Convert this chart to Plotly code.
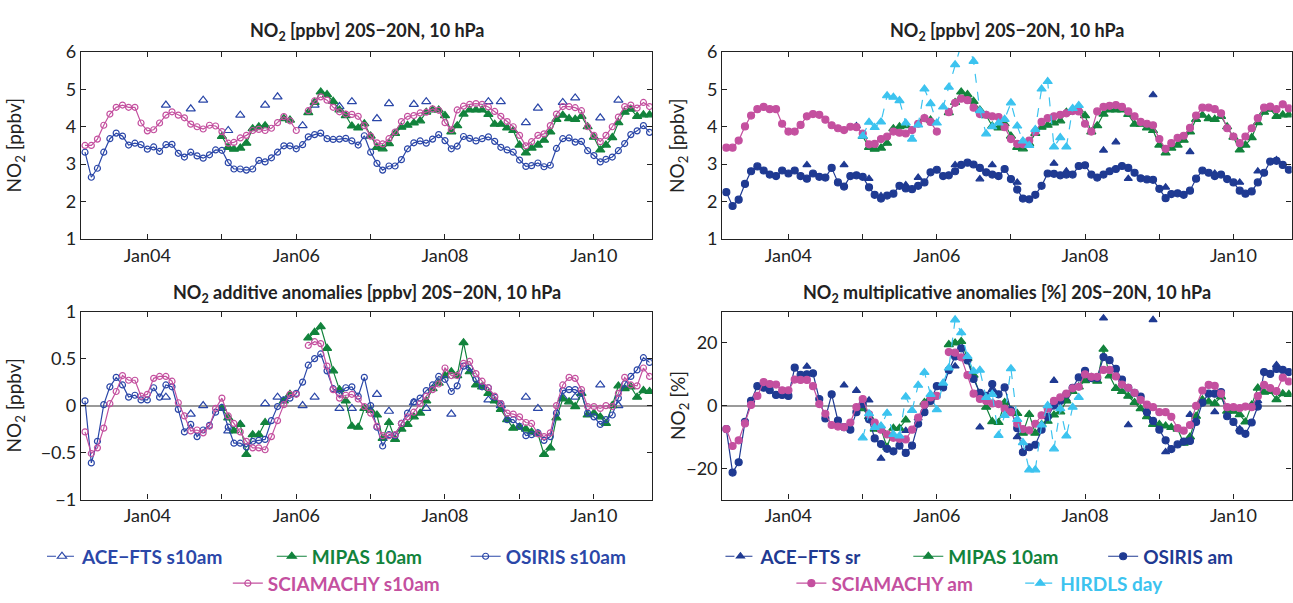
import pandas as pd
import plotly.graph_objects as go

N = None
months = pd.date_range("2003-03-01", periods=92, freq="MS")
tick_years = [2004, 2006, 2008, 2010]
tick_labels = ["Jan04", "Jan06", "Jan08", "Jan10"]

# ---------------- top-left: NO2 [ppbv] (s10am) ----------------
osiris_s10am = [3.32, 2.65, 2.89, 3.32, 3.68, 3.83, 3.75, 3.51, 3.56, 3.52,
                3.40, 3.46, 3.34, 3.52, 3.53, 3.29, 3.19, 3.32, 3.22, 3.16,
                3.25, 3.38, 3.37, 3.04, 2.87, 2.87, 2.84, 2.87, 3.10, 3.06,
                3.17, 3.32, 3.49, 3.49, 3.41, 3.52, 3.73, 3.79, 3.83, 3.68,
                3.66, 3.67, 3.69, 3.62, 3.51, 3.76, 3.32, 3.02, 2.84, 2.95,
                2.95, 3.12, 3.41, 3.57, 3.62, 3.56, 3.67, 3.79, 3.63, 3.41,
                3.48, 3.74, 3.69, 3.62, 3.68, 3.73, 3.61, 3.45, 3.38, 3.32,
                3.11, 2.94, 2.96, 3.03, 2.93, 2.97, 3.42, 3.68, 3.70, 3.59,
                3.61, 3.36, 3.23, 3.06, 3.13, 3.19, 3.36, 3.55, 3.79, 3.89,
                4.03, 3.85]
scia_s10am = [3.50, 3.50, 3.67, 4.04, 4.34, 4.52, 4.58, 4.52, 4.52, 4.10,
              3.89, 3.92, 4.10, 4.31, 4.40, 4.31, 4.24, 4.07, 4.00, 3.94,
              4.04, 4.02, 3.87, 3.56, 3.58, 3.70, 3.77, 3.90, 3.93, 3.90,
              3.96, 4.11, 4.27, 4.16, 3.90, N, 4.43, 4.69, 4.80, 4.71,
              4.52, 4.40, 4.34, 4.33, 4.28, 4.03, 3.75, 3.57, 3.54, 3.68,
              3.86, 4.14, 4.28, 4.30, 4.37, 4.39, 4.48, 4.44, 4.11, 3.92,
              4.45, 4.55, 4.60, 4.62, 4.60, 4.53, 4.41, 4.28, 4.14, 4.00,
              3.77, 3.49, 3.60, 3.77, 3.81, 4.03, 4.34, 4.54, 4.54, 4.51,
              4.43, 4.00, 3.77, 3.60, 3.77, 4.00, 4.26, 4.54, 4.58, 4.50,
              4.65, 4.54]
mipas_10am = [N] * 22 + [
              3.74, 3.45, 3.40, 3.43, 3.56, 3.95, 4.00, 4.03,
              N, N, 4.22, 4.18, N, N, 4.38, 4.65, 4.93, 4.86,
              4.68, 4.45, 4.30, 4.02, 3.97, 4.08, 3.75, 3.45, 3.41, 3.55,
              3.82, 3.99, 4.04, 4.10, 4.16, 4.39, 4.45, 4.45, 4.30, 3.86,
              4.03, 4.34, 4.45, 4.45, 4.45, 4.33, 4.07, 4.07, 3.97, 3.90,
              3.51, 3.30, 3.43, 3.51, 3.64, 3.86, 4.20, 4.31, 4.22, 4.20,
              4.28, 4.00, 3.72, 3.38, 3.51, 3.71, 4.11, 4.39, 4.47, 4.28,
              4.32, 4.32]
ace_s10am = [N, N, N, N, N, N, N, N, N, N,
             N, N, N, 4.58, N, N, N, 4.48, N, 4.71,
             N, N, N, 3.90, N, 4.31, N, N, N, 4.58,
             N, 4.80, N, N, N, 4.03, N, 4.58, N, N,
             N, 4.54, N, 4.67, N, N, N, 4.22, N, 4.62,
             N, N, N, 4.60, N, 4.67, N, N, N, N,
             N, N, N, N, N, 4.67, N, 4.67, N, N,
             N, 4.11, N, 4.50, N, N, N, 4.65, N, 4.77,
             N, N, N, 4.24, N, N, 4.71, N, N, N,
             N, N]

# ---------------- top-right: NO2 [ppbv] (am / sr / day) ----------------
osiris_am = [2.25, 1.88, 2.05, 2.47, 2.81, 2.94, 2.83, 2.72, 2.68, 2.83,
             2.75, 2.83, 2.68, 2.61, 2.75, 2.66, 2.64, 2.90, 2.51, 2.40,
             2.68, 2.70, 2.66, 2.38, 2.18, 2.08, 2.16, 2.21, 2.42, 2.35,
             2.33, 2.42, 2.51, 2.78, 2.85, 2.68, 2.70, 2.81, 2.98, 3.04,
             2.99, 2.90, 2.78, 2.72, 2.68, 2.87, 2.60, 2.32, 2.08, 2.06,
             2.18, 2.42, 2.75, 2.74, 2.70, 2.72, 2.72, 2.95, 2.97, 2.72,
             2.64, 2.72, 2.81, 2.87, 2.95, 2.90, 2.77, 2.62, 2.59, 2.58,
             2.34, 2.09, 2.20, 2.22, 2.18, 2.29, 2.61, 2.83, 2.77, 2.68,
             2.72, 2.60, 2.51, 2.29, 2.21, 2.27, 2.51, 2.77, 3.07, 3.09,
             2.98, 2.85]
scia_am = [3.44, 3.44, 3.63, 4.01, 4.30, 4.47, 4.53, 4.47, 4.47, 4.08,
           3.87, 3.87, 4.05, 4.28, 4.34, 4.32, 4.19, 4.04, 3.96, 3.91,
           4.00, 3.99, 3.82, 3.53, 3.54, 3.67, 3.74, 3.87, 3.84, 3.82,
           3.91, 4.08, 4.23, 4.13, 3.87, N, 4.39, 4.64, 4.75, 4.71,
           4.51, 4.34, 4.32, 4.28, 4.26, 3.99, 3.67, 3.54, 3.53, 3.63,
           3.86, 4.13, 4.23, 4.28, 4.32, 4.36, 4.42, 4.41, 4.08, 3.87,
           4.41, 4.53, 4.56, 4.58, 4.53, 4.41, 4.28, 4.13, 4.08, 4.04,
           3.67, 3.41, 3.56, 3.70, 3.76, 3.97, 4.30, 4.51, 4.51, 4.47,
           4.36, 3.96, 3.74, 3.56, 3.74, 3.96, 4.23, 4.51, 4.54, 4.47,
           4.60, 4.49]
ace_sr = [N, N, N, N, N, N, N, N, N, N,
          N, N, N, 2.98, N, N, N, N, N, 2.98,
          N, 4.02, N, 2.61, N, 2.15, N, N, N, 2.44,
          N, 2.64, N, N, N, N, N, 2.98, N, N,
          N, 2.60, N, 2.98, N, N, N, 2.51, N, N,
          N, N, N, 3.02, N, 2.81, N, N, N, N,
          N, 3.37, N, 3.59, N, 2.61, N, N, N, 4.85,
          N, 2.38, N, N, N, 3.33, N, N, N, 2.75,
          N, N, N, 2.51, N, N, 2.81, N, N, 3.11,
          N, N]
hirdls_day = [N] * 22 + [
              3.75, 4.12, 3.98, 4.13, 4.83, 4.79, 4.70, 4.10,
              3.67, 4.05, 5.01, 4.62, 4.10, 4.53, 5.06, 5.66, 6.20, 6.30,
              5.75, 4.43, 3.81, 4.00, 4.10, 4.20, 4.64, 4.02, 3.62, 3.50,
              3.93, 5.01, 5.21, 3.46, 3.71, 3.46, 4.49, 4.57] + [N] * 34

# ---------------- bottom-left: additive anomalies [ppbv] ----------------
osiris_s10am_add = [0.05, -0.61, -0.38, 0.01, 0.20, 0.30, 0.22, 0.09, 0.11, 0.06,
                    0.06, 0.19, 0.09, 0.22, 0.20, -0.04, -0.28, -0.20, -0.33, -0.26,
                    -0.21, -0.07, -0.02, -0.23, -0.40, -0.40, -0.44, -0.38, -0.37, -0.36,
                    -0.16, -0.01, 0.06, 0.08, 0.13, 0.25, 0.43, 0.50, 0.55, 0.37,
                    0.18, 0.13, 0.19, 0.20, 0.10, 0.30, 0.00, -0.23, -0.43, -0.31,
                    -0.32, -0.19, -0.08, 0.04, 0.08, 0.16, 0.22, 0.31, 0.28, 0.15,
                    0.21, 0.42, 0.40, 0.28, 0.20, 0.19, 0.09, 0.02, -0.15, -0.15,
                    -0.22, -0.32, -0.31, -0.29, -0.37, -0.33, -0.08, 0.16, 0.17, 0.17,
                    0.13, -0.08, -0.12, -0.20, -0.15, -0.10, 0.08, 0.23, 0.31, 0.38,
                    0.51, 0.46]
scia_s10am_add = [-0.28, -0.51, -0.45, -0.24, 0.02, 0.15, 0.32, 0.27, 0.27, 0.10,
                  0.12, 0.29, 0.31, 0.31, 0.26, 0.03, -0.11, -0.27, -0.26, -0.29,
                  -0.22, -0.03, 0.08, -0.11, -0.19, -0.28, -0.38, -0.45, -0.45, -0.47,
                  -0.33, -0.16, 0.01, 0.12, 0.12, N, 0.64, 0.68, 0.66, 0.42,
                  0.17, 0.08, 0.11, 0.12, 0.07, -0.01, -0.08, -0.22, -0.32, -0.32,
                  -0.31, -0.19, -0.12, -0.07, 0.02, 0.10, 0.17, 0.23, 0.40, 0.32,
                  0.32, 0.45, 0.47, 0.34, 0.26, 0.19, 0.10, 0.02, -0.08, -0.09,
                  -0.12, -0.18, -0.19, -0.30, -0.33, -0.29, 0.00, 0.22, 0.30, 0.29,
                  0.17, -0.01, -0.01, -0.03, 0.00, -0.01, 0.13, 0.30, 0.22, 0.21,
                  0.40, 0.31]
mipas_add = [N] * 22 + [
             -0.03, -0.13, -0.27, -0.20, -0.52, -0.31, -0.31, -0.18,
             N, N, 0.05, 0.12, N, N, 0.72, 0.78, 0.84, 0.61,
             0.37, 0.17, 0.05, -0.22, -0.23, -0.03, -0.05, -0.10, -0.35, -0.18,
             -0.36, -0.25, -0.20, -0.12, -0.08, 0.05, 0.18, 0.24, 0.32, 0.36,
             0.32, 0.67, 0.36, 0.22, 0.20, 0.13, 0.05, -0.04, -0.15, -0.24,
             -0.23, -0.25, -0.28, -0.30, -0.52, -0.45, -0.13, 0.07, 0.04, -0.01,
             0.13, -0.10, -0.08, -0.12, -0.19, 0.00, 0.21, 0.18, 0.20, 0.09,
             0.16, 0.15]
ace_s10am_add = [N, N, N, N, N, N, N, N, N, N,
                 N, N, N, 0.09, N, N, N, -0.09, N, 0.00,
                 N, N, N, -0.27, N, -0.20, N, N, N, 0.02,
                 N, 0.09, N, N, N, 0.00, N, 0.09, N, N,
                 N, -0.03, N, -0.03, N, N, N, 0.12, N, -0.06,
                 N, N, N, 0.03, N, -0.03, N, N, N, -0.09,
                 N, N, N, N, N, 0.06, N, 0.00, N, N,
                 N, 0.09, N, -0.03, N, N, N, 0.09, N, 0.09,
                 N, N, N, 0.22, N, N, 0.00, N, N, N,
                 N, N]

# ---------------- bottom-right: multiplicative anomalies [%] ----------------
osiris_am_mul = [-7.5, -21.4, -18.1, -5.2, 1.5, 6.2, 5.7, 4.9, 3.4, 3.4,
                 3.1, 12.1, 9.8, 10.0, 10.3, 2.1, -4.1, 3.6, -4.8, -6.9,
                 -7.7, -2.1, 0.5, -4.4, -10.5, -12.3, -13.8, -14.6, -12.8, -15.1,
                 -12.8, -5.8, -2.1, 1.5, 6.2, 5.8, 11.3, 15.7, 18.3, 14.4,
                 8.5, 4.1, 3.1, 6.9, 3.6, 5.8, -1.5, -7.2, -14.9, -13.3,
                 -12.5, -7.7, -3.6, 0.0, 1.5, 3.6, 5.7, 9.0, 11.1, 8.8,
                 8.8, 15.5, 14.5, 11.7, 8.3, 5.7, 4.1, 2.9, -2.1, -4.9,
                 -7.7, -11.1, -13.9, -12.4, -11.5, -11.3, -5.2, 0.9, 3.8, 3.8,
                 4.3, -3.4, -5.2, -8.0, -9.0, -5.4, -0.3, 10.7, 10.1, 11.7,
                 11.4, 10.7]
scia_am_mul = [-7.5, -12.9, -11.1, -5.7, 0.2, 3.1, 7.5, 6.9, 6.7, 4.9,
               4.9, 8.3, 8.2, 8.2, 6.2, 0.5, -2.6, -6.2, -6.7, -6.9,
               -5.4, -0.5, 2.1, -2.8, -5.4, -7.7, -9.2, -10.3, -10.6, -10.8,
               -7.7, -3.8, 0.3, 2.6, 3.1, N, 17.1, 16.9, 15.4, 9.7,
               3.8, 2.1, 1.5, 0.7, 0.5, -1.0, -2.1, -5.8, -7.5, -7.9,
               -5.8, -3.1, -1.0, 1.5, 2.6, 3.8, 5.5, 6.0, 10.0, 9.2,
               9.2, 11.4, 11.4, 9.3, 6.7, 5.7, 4.1, 1.8, 0.3, -0.5,
               -2.1, -2.1, -3.6, -7.2, -8.0, -6.2, -0.1, 4.8, 6.6, 6.3,
               3.8, -0.5, -0.5, -0.8, -0.3, -0.5, 3.0, 6.6, 5.6, 4.6,
               8.9, 7.7]
mipas_mul = [N] * 22 + [
             -1.0, -3.5, -7.5, -7.5, -13.3, -7.2, -7.2, -4.6,
             N, N, 1.0, 2.5, N, N, 19.5, 20.0, 20.5, 15.1,
             9.7, 3.6, -0.5, -5.1, -5.4, 1.0, -1.5, -2.5, -8.8, -2.8,
             -8.8, -6.0, -5.0, -3.0, -2.0, 1.5, 4.5, 6.0, 8.0, 9.0,
             7.8, 18.0, 9.5, 5.5, 4.5, 3.0, 1.0, -1.0, -3.5, -6.0,
             -6.0, -6.5, -7.0, -7.5, -12.0, -10.0, -3.4, 1.9, 1.2, 0.7,
             2.8, -1.8, -1.8, -2.9, -5.2, 0.2, 5.6, 4.3, 4.5, 1.9,
             3.8, 3.6]
ace_sr_mul = [N, N, N, N, N, N, N, N, N, N,
              N, N, N, 12.5, N, N, N, N, N, 6.5,
              N, 4.8, N, 1.7, N, -16.9, N, N, N, -8.0,
              N, -4.0, N, N, N, N, N, 12.6, N, N,
              N, -6.9, N, 5.0, N, N, N, -10.0, N, N,
              N, N, N, 8.0, N, 2.0, N, N, N, N,
              N, 27.9, N, 33.0, N, -6.2, N, N, N, 27.4,
              N, -14.8, N, N, N, -2.9, N, N, N, -2.0,
              N, N, N, -7.5, N, N, 1.5, N, N, 13.0,
              N, N]
hirdls_mul = [N] * 22 + [
              -10.3, -2.6, -7.0, -6.5, -2.4, -9.2, -9.7, 2.8,
              -1.5, 6.5, 10.6, 3.6, -1.3, 7.2, 12.0, 27.4, 23.3, 15.7,
              11.0, 11.3, 2.6, 3.6, -9.5, -3.1, 11.8, -4.4, -11.8, -20.5,
              -20.5, -6.2, 0.0, -13.8, -1.0, -9.7, -0.5, 2.6] + [N] * 34

# ---------------- styling ----------------
FONT = "Lato"
C_BLUE = "#2b47a8"
C_NAVY = "#1f3a92"
C_MAG = "#c4509f"
C_GREEN = "#12833c"
C_CYAN = "#3cc3ef"
AX = "#222222"

fig = go.Figure()


def add(y, xa, ya, name, color, symbol, size, dash="solid", legend=None, lw=1.2):
    fig.add_trace(go.Scatter(
        x=months, y=y, xaxis=xa, yaxis=ya, name=name, mode="lines+markers",
        connectgaps=False,
        line=dict(color=color, width=lw, dash=dash),
        marker=dict(symbol=symbol, size=size, color=color,
                    line=dict(color=color, width=1.2)),
        showlegend=legend is not None, legend=legend or "legend"))


# top-left
add(ace_s10am, "x", "y", "ACE\u2212FTS s10am", C_BLUE, "triangle-up-open", 8, "dash", "legend")
add(mipas_10am, "x", "y", "MIPAS 10am", C_GREEN, "triangle-up", 8, "solid", "legend2")
add(osiris_s10am, "x", "y", "OSIRIS s10am", C_BLUE, "circle-open", 6, "solid", "legend3")
add(scia_s10am, "x", "y", "SCIAMACHY s10am", C_MAG, "circle-open", 6, "solid", "legend4")
# top-right
add(ace_sr, "x2", "y2", "ACE\u2212FTS sr", C_NAVY, "triangle-up", 7, "dash", "legend5")
add(mipas_10am, "x2", "y2", "MIPAS 10am", C_GREEN, "triangle-up", 8, "solid", "legend6")
add(osiris_am, "x2", "y2", "OSIRIS am", C_NAVY, "circle", 7, "solid", "legend7")
add(scia_am, "x2", "y2", "SCIAMACHY am", C_MAG, "circle", 7, "solid", "legend8")
add(hirdls_day, "x2", "y2", "HIRDLS day", C_CYAN, "triangle-up", 8, "dash", "legend9")
# bottom-left
add(ace_s10am_add, "x3", "y3", "ACE\u2212FTS s10am", C_BLUE, "triangle-up-open", 8, "dash")
add(mipas_add, "x3", "y3", "MIPAS 10am", C_GREEN, "triangle-up", 8)
add(osiris_s10am_add, "x3", "y3", "OSIRIS s10am", C_BLUE, "circle-open", 6)
add(scia_s10am_add, "x3", "y3", "SCIAMACHY s10am", C_MAG, "circle-open", 6)
# bottom-right
add(ace_sr_mul, "x4", "y4", "ACE\u2212FTS sr", C_NAVY, "triangle-up", 7, "dash")
add(mipas_mul, "x4", "y4", "MIPAS 10am", C_GREEN, "triangle-up", 8)
add(osiris_am_mul, "x4", "y4", "OSIRIS am", C_NAVY, "circle", 7)
add(scia_am_mul, "x4", "y4", "SCIAMACHY am", C_MAG, "circle", 7)
add(hirdls_mul, "x4", "y4", "HIRDLS day", C_CYAN, "triangle-up", 8, "dash")

W, H = 1293, 603
XL = [81 / W, 652.7 / W]
XR = [722.8 / W, 1292.5 / W]
YT = [1 - 235.5 / H, 1 - 41.5 / H]
YB = [1 - 506 / H, 1 - 311 / H]

xcommon = dict(type="date", range=["2003-02-09", "2010-10-14"],
               tickvals=[f"{y}-01-01" for y in tick_years], ticktext=tick_labels,
               ticks="inside", ticklen=5, tickwidth=1, tickcolor=AX,
               minor=dict(ticks="inside", ticklen=5, tickwidth=1, tickcolor=AX,
                          dtick="M12", tick0="2004-01-01", showgrid=False),
               showline=True, linecolor=AX, linewidth=1.2, mirror="ticks",
               showgrid=False, zeroline=False,
               tickfont=dict(family=FONT, size=18, color=AX))
ycommon = dict(ticks="inside", ticklen=5, tickwidth=1, tickcolor=AX,
               showline=True, linecolor=AX, linewidth=1.2, mirror="ticks",
               showgrid=False, tickfont=dict(family=FONT, size=18, color=AX))

fig.update_layout(
    xaxis=dict(domain=XL, anchor="y", **xcommon),
    xaxis2=dict(domain=XR, anchor="y2", **xcommon),
    xaxis3=dict(domain=XL, anchor="y3", **xcommon),
    xaxis4=dict(domain=XR, anchor="y4", **xcommon),
    yaxis=dict(domain=YT, anchor="x", range=[1, 6], tickvals=[1, 2, 3, 4, 5, 6],
               zeroline=False, **ycommon),
    yaxis2=dict(domain=YT, anchor="x2", range=[1, 6], tickvals=[1, 2, 3, 4, 5, 6],
                zeroline=False, **ycommon),
    yaxis3=dict(domain=YB, anchor="x3", range=[-1, 1],
                tickvals=[-1, -0.5, 0, 0.5, 1],
                zeroline=True, zerolinecolor="#9a9a9a", zerolinewidth=1.5, **ycommon),
    yaxis4=dict(domain=YB, anchor="x4", range=[-30, 30], tickvals=[-20, 0, 20],
                zeroline=True, zerolinecolor="#9a9a9a", zerolinewidth=1.5, **ycommon),
)

# legends (one per entry so each label keeps its series colour)
legend_spec = [
    ("legend", 42, 565, C_BLUE), ("legend2", 272, 565, C_GREEN),
    ("legend3", 466, 565, C_BLUE), ("legend4", 228, 593, C_MAG),
    ("legend5", 721, 565, C_NAVY), ("legend6", 909, 565, C_GREEN),
    ("legend7", 1104, 565, C_NAVY), ("legend8", 792, 593, C_MAG),
    ("legend9", 1021, 593, C_CYAN),
]
for key, px, py, col in legend_spec:
    fig.update_layout({key: dict(x=px / W, y=1 - py / H, xanchor="left", yanchor="middle",
                                 orientation="h", bgcolor="rgba(0,0,0,0)", borderwidth=0,
                                 itemwidth=30,
                                 font=dict(family=FONT, size=19, color=col, weight="bold"))})

ann = []
titles = [
    ((XL[0] + XL[1]) / 2, 1 - 20 / H, "NO<sub>2</sub> [ppbv] 20S\u221220N, 10 hPa"),
    ((XR[0] + XR[1]) / 2, 1 - 20 / H, "NO<sub>2</sub> [ppbv] 20S\u221220N, 10 hPa"),
    ((XL[0] + XL[1]) / 2, 1 - 292 / H, "NO<sub>2</sub> additive anomalies [ppbv] 20S\u221220N, 10 hPa"),
    ((XR[0] + XR[1]) / 2, 1 - 292 / H, "NO<sub>2</sub> multiplicative anomalies [%] 20S\u221220N, 10 hPa"),
]
for x, y, t in titles:
    ann.append(dict(x=x, y=y, xref="paper", yref="paper", text=t, showarrow=False,
                    xanchor="center", yanchor="middle",
                    font=dict(family=FONT, size=18, color=AX, weight="bold")))
ytitles = [
    (15 / W, (YT[0] + YT[1]) / 2, "NO<sub>2</sub> [ppbv]"),
    (679 / W, (YT[0] + YT[1]) / 2, "NO<sub>2</sub> [ppbv]"),
    (15 / W, (YB[0] + YB[1]) / 2, "NO<sub>2</sub> [ppbv]"),
    (679 / W, (YB[0] + YB[1]) / 2, "NO<sub>2</sub> [%]"),
]
for x, y, t in ytitles:
    ann.append(dict(x=x, y=y, xref="paper", yref="paper", text=t, showarrow=False,
                    textangle=-90, xanchor="center", yanchor="middle",
                    font=dict(family=FONT, size=19, color=AX)))

fig.update_layout(width=W, height=H, margin=dict(l=0, r=0, t=0, b=0),
                  plot_bgcolor="white", paper_bgcolor="white",
                  font=dict(family=FONT, size=18, color=AX), annotations=ann)

fig.write_html("out.html")
